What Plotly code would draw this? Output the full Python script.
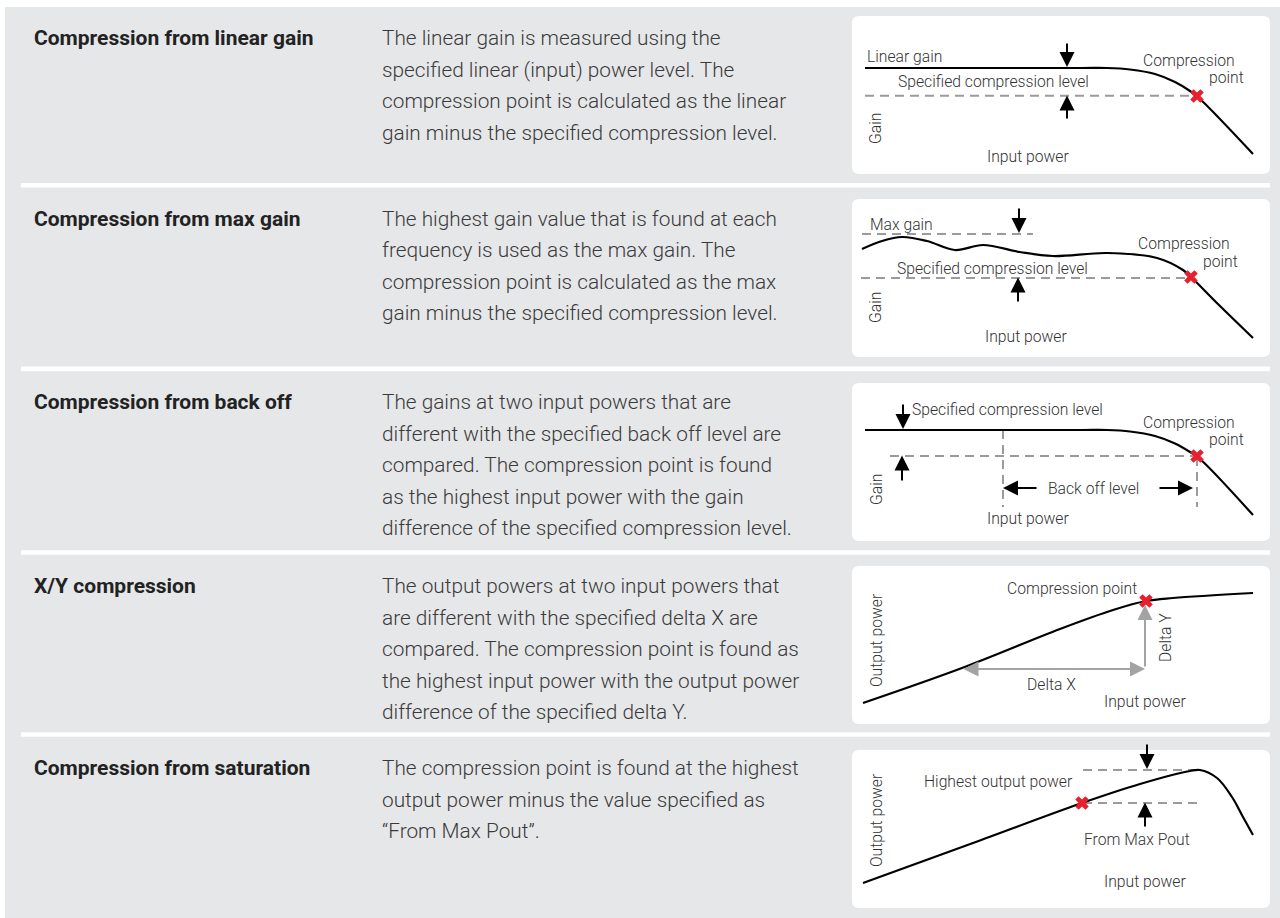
import plotly.graph_objects as go

W, H = 1280, 918

# ---------------- text content ----------------
titles = [
    "Compression from linear gain",
    "Compression from max gain",
    "Compression from back off",
    "X/Y compression",
    "Compression from saturation",
]
descriptions = [
    ["The linear gain is measured using the",
     "specified linear (input) power level. The",
     "compression point is calculated as the linear",
     "gain minus the specified compression level."],
    ["The highest gain value that is found at each",
     "frequency is used as the max gain. The",
     "compression point is calculated as the max",
     "gain minus the specified compression level."],
    ["The gains at two input powers that are",
     "different with the specified back off level are",
     "compared. The compression point is found",
     "as the highest input power with the gain",
     "difference of the specified compression level."],
    ["The output powers at two input powers that",
     "are different with the specified delta X are",
     "compared. The compression point is found as",
     "the highest input power with the output power",
     "difference of the specified delta Y."],
    ["The compression point is found at the highest",
     "output power minus the value specified as",
     "\u201cFrom Max Pout\u201d."],
]

# ---------------- diagram data (local diagram units) ----------------
# Diagram 1: compression from linear gain
d1_curve_x = [13, 230, 255, 278, 303, 323, 338, 348, 401]
d1_curve_y = [106, 106, 106, 104.5, 100, 92, 83, 75, 20]
d1_point = (345, 78)
d1_dash_x = [13, 343]
d1_dash_y = [78.3, 78.3]

# Diagram 2: compression from max gain
d2_curve_x = [10, 30, 50, 75, 103, 131, 168, 201, 255, 305, 331, 339, 368, 401]
d2_curve_y = [108, 116, 120, 116, 107, 112, 105, 101, 104, 99, 87, 80, 51, 19]
d2_point = (339, 80)
d2_dash_top_x = [10, 181]
d2_dash_top_y = [123, 123]
d2_dash_low_x = [9, 336]
d2_dash_low_y = [79, 79]

# Diagram 3: compression from back off
d3_curve_x = [13, 230, 255, 278, 303, 323, 338, 348, 401]
d3_curve_y = [111, 111, 111, 109.5, 105, 97.5, 89, 82, 26]
d3_point = (345, 85)
d3_dash_h_x = [38, 341]
d3_dash_h_y = [85, 85]
d3_dash_v1_x = [151, 151]
d3_dash_v1_y = [111, 34]
d3_dash_v2_x = [345, 345]
d3_dash_v2_y = [84, 34]

# Diagram 4: X/Y compression
d4_curve_x = [11, 110, 208, 261, 294, 321, 401]
d4_curve_y = [21, 56, 95, 114, 123, 126, 131]
d4_point = (294, 123)

# Diagram 5: compression from saturation
d5_curve_x = [11, 121, 230, 288, 338, 348, 365, 380, 391, 401]
d5_curve_y = [25, 65, 105, 124, 137, 138, 130, 111, 91, 73]
d5_point = (230, 105)
d5_dash_top_x = [231, 350]
d5_dash_top_y = [138, 138]
d5_dash_low_x = [231, 350]
d5_dash_low_y = [105, 105]

# arrows: (tail_x, tail_y, tip_x, tip_y)
d_arrows = {
    1: [(215, 132, 215, 107), (215, 54, 215, 78.5)],
    2: [(167, 150, 167, 124), (166, 54, 166, 79.5)],
    3: [(51, 138, 51, 112), (50, 59, 50, 85.5), (186, 53, 151, 53), (306, 53, 341, 53)],
    5: [(295, 165, 295, 139), (293, 80, 293, 105.5)],
}
d4_gray_arrows = [  # (tail_x, tail_y, tip_x, tip_y, sides)
    (293, 56, 293, 119, "end"),
    (110, 55, 293, 55, "end+start"),
]

# labels: (text, x, y, angle, xanchor)
d_labels = {
    1: [("Linear gain", 13, 117, 0, "left"),
        ("Specified compression level", 141.5, 92, 0, "center"),
        ("Compression", 337, 113, 0, "center"),
        ("point", 374, 96, 0, "center"),
        ("Gain", 24, 45, -90, "center"),
        ("Input power", 176, 17, 0, "center")],
    2: [("Max gain", 16, 133, 0, "left"),
        ("Specified compression level", 140.5, 89, 0, "center"),
        ("Compression", 332, 114, 0, "center"),
        ("point", 368.5, 96, 0, "center"),
        ("Gain", 23, 49, -90, "center"),
        ("Input power", 174, 21, 0, "center")],
    3: [("Specified compression level", 58, 132, 0, "left"),
        ("Compression", 337, 119, 0, "center"),
        ("point", 374, 102, 0, "center"),
        ("Back off level", 241.5, 53, 0, "center"),
        ("Gain", 24, 51, -90, "center"),
        ("Input power", 176, 23, 0, "center")],
    4: [("Compression point", 219.5, 136, 0, "center"),
        ("Delta Y", 313, 86, -90, "center"),
        ("Delta X", 199, 40, 0, "center"),
        ("Output power", 24, 84, -90, "center"),
        ("Input power", 293, 23, 0, "center")],
    5: [("Highest output power", 146.5, 127, 0, "center"),
        ("From Max Pout", 285, 69, 0, "center"),
        ("Output power", 24, 88, -90, "center"),
        ("Input power", 293, 27, 0, "center")],
}

# ---------------- layout geometry ----------------
row_text_y = [37, 217.5, 401, 585, 767]
line_gap = 31.5
title_x = 32
desc_x = 380
box_x0, box_x1 = 852, 1270
box_tops = [16, 199, 383, 566, 750]
box_h = 158
sep_y = [185.2, 368.9, 552.5, 734.5]
diag_h = 170  # axis height incl. headroom above box

GRAY_BG = "#e6e7e9"
DASH_GRAY = "#9b9b9b"
RED = "#e8202e"
FONT = "Roboto, 'Noto Sans', sans-serif"

fig = go.Figure()

# base canvas axis
fig.add_trace(go.Scatter(x=[0], y=[0], mode="markers", marker=dict(opacity=0),
                         hoverinfo="skip", showlegend=False, xaxis="x", yaxis="y"))
layout = dict(
    width=W, height=H, margin=dict(l=0, r=0, t=0, b=0),
    paper_bgcolor="white", plot_bgcolor="rgba(0,0,0,0)", showlegend=False,
    xaxis=dict(range=[0, W], domain=[0, 1], visible=False, fixedrange=True),
    yaxis=dict(range=[H, 0], domain=[0, 1], visible=False, fixedrange=True),
)

shapes = []
annotations = []

# gray panel
shapes.append(dict(type="rect", xref="x", yref="y", x0=5, y0=7, x1=W, y1=H,
                   fillcolor=GRAY_BG, line=dict(width=0), layer="below"))
# separators
for sy in sep_y:
    shapes.append(dict(type="rect", xref="x", yref="y", x0=21, x1=1270,
                       y0=sy - 2.3, y1=sy + 2.3, fillcolor="white",
                       line=dict(width=0), layer="below"))


def rrect(x0, y0, x1, y1, r):
    return (f"M{x0+r},{y0} L{x1-r},{y0} Q{x1},{y0} {x1},{y0+r} L{x1},{y1-r} "
            f"Q{x1},{y1} {x1-r},{y1} L{x0+r},{y1} Q{x0},{y1} {x0},{y1-r} "
            f"L{x0},{y0+r} Q{x0},{y0} {x0+r},{y0} Z")


for t in box_tops:
    shapes.append(dict(type="path", xref="x", yref="y",
                       path=rrect(box_x0, t, box_x1, t + box_h, 7),
                       fillcolor="white", line=dict(width=0), layer="below"))

# titles & descriptions
for i, (tt, desc) in enumerate(zip(titles, descriptions)):
    annotations.append(dict(xref="x", yref="y", x=title_x, y=row_text_y[i] + 1,
                            text=f"<b>{tt}</b>", showarrow=False, xanchor="left",
                            yanchor="middle",
                            font=dict(family=FONT, size=21, color="#222222")))
    for j, line in enumerate(desc):
        annotations.append(dict(xref="x", yref="y", x=desc_x,
                                y=row_text_y[i] + 1 + j * line_gap,
                                text=line, showarrow=False, xanchor="left",
                                yanchor="middle",
                                font=dict(family=FONT, size=20.8, color="#3a3a3a",
                                          weight=300)))

# diagram axes
for k in range(1, 6):
    bottom = box_tops[k - 1] + box_h
    top = bottom - diag_h
    ax_id = k + 1
    layout[f"xaxis{ax_id}"] = dict(domain=[box_x0 / W, box_x1 / W],
                                   range=[0, box_x1 - box_x0], visible=False,
                                   fixedrange=True, anchor=f"y{ax_id}")
    layout[f"yaxis{ax_id}"] = dict(domain=[1 - bottom / H, 1 - top / H],
                                   range=[0, diag_h], visible=False,
                                   fixedrange=True, anchor=f"x{ax_id}")


def add_line(k, xs, ys, color="black", width=2.2, dash=None, shape="linear"):
    fig.add_trace(go.Scatter(x=xs, y=ys, mode="lines",
                             line=dict(color=color, width=width, dash=dash,
                                       shape=shape, smoothing=1.0),
                             xaxis=f"x{k+1}", yaxis=f"y{k+1}", cliponaxis=False,
                             hoverinfo="skip", showlegend=False))


def add_point(k, pt):
    fig.add_trace(go.Scatter(x=[pt[0]], y=[pt[1]], mode="markers",
                             marker=dict(symbol="x", size=12, color=RED,
                                         line=dict(width=0)),
                             xaxis=f"x{k+1}", yaxis=f"y{k+1}", cliponaxis=False,
                             hoverinfo="skip", showlegend=False))


DASH = "9px,6px"
# diagram 1
add_line(1, d1_dash_x, d1_dash_y, DASH_GRAY, 2, DASH)
add_line(1, d1_curve_x, d1_curve_y, shape="spline")
add_point(1, d1_point)
# diagram 2
add_line(2, d2_dash_top_x, d2_dash_top_y, DASH_GRAY, 2, DASH)
add_line(2, d2_dash_low_x, d2_dash_low_y, DASH_GRAY, 2, DASH)
add_line(2, d2_curve_x, d2_curve_y, shape="spline")
add_point(2, d2_point)
# diagram 3
add_line(3, d3_dash_h_x, d3_dash_h_y, DASH_GRAY, 2, DASH)
add_line(3, d3_dash_v1_x, d3_dash_v1_y, DASH_GRAY, 2, DASH)
add_line(3, d3_dash_v2_x, d3_dash_v2_y, DASH_GRAY, 2, DASH)
add_line(3, d3_curve_x, d3_curve_y, shape="spline")
add_point(3, d3_point)
# diagram 4
add_line(4, d4_curve_x, d4_curve_y, shape="spline")
add_point(4, d4_point)
# diagram 5
add_line(5, d5_dash_top_x, d5_dash_top_y, DASH_GRAY, 2, DASH)
add_line(5, d5_dash_low_x, d5_dash_low_y, DASH_GRAY, 2, DASH)
add_line(5, d5_curve_x, d5_curve_y, shape="spline")
add_point(5, d5_point)

# arrows
for k, arrs in d_arrows.items():
    for (tx, ty, hx, hy) in arrs:
        annotations.append(dict(xref=f"x{k+1}", yref=f"y{k+1}",
                                axref=f"x{k+1}", ayref=f"y{k+1}",
                                x=hx, y=hy, ax=tx, ay=ty, text="",
                                showarrow=True, arrowhead=2, arrowsize=1.5,
                                arrowwidth=2, arrowcolor="black", standoff=0))
for (tx, ty, hx, hy, side) in d4_gray_arrows:
    annotations.append(dict(xref="x5", yref="y5", axref="x5", ayref="y5",
                            x=hx, y=hy, ax=tx, ay=ty, text="",
                            showarrow=True, arrowhead=2, startarrowhead=2,
                            arrowsize=1.5, startarrowsize=1.5, arrowside=side,
                            arrowwidth=2, arrowcolor="#a3a3a3",
                            standoff=0, startstandoff=0))

# labels
for k, labs in d_labels.items():
    for (txt, x, y, ang, xa) in labs:
        annotations.append(dict(xref=f"x{k+1}", yref=f"y{k+1}", x=x, y=y,
                                text=txt, showarrow=False, textangle=ang,
                                xanchor=xa, yanchor="middle",
                                font=dict(family=FONT, size=15.7, color="#333333",
                                          weight=300)))

layout["shapes"] = shapes
layout["annotations"] = annotations
fig.update_layout(**layout)
fig.write_html("out.html",
               config={"displayModeBar": False, "staticPlot": True},
               post_script="document.body.style.margin='0';"
                           "document.body.style.overflow='hidden';")
